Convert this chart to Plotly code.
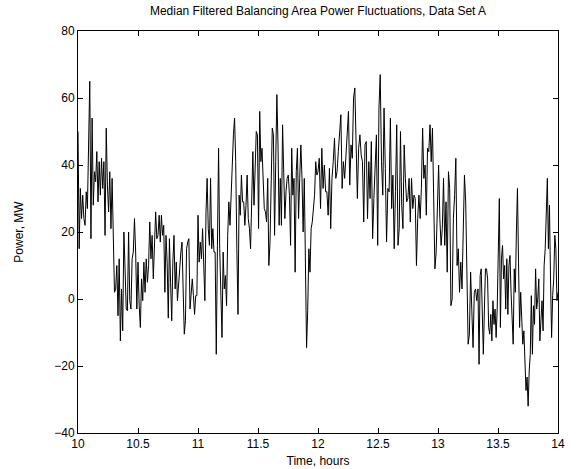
import numpy as np
import plotly.graph_objects as go

# Segment boundaries (hours) and readings of the trace within each segment
seg_bounds = [10.0, 10.6667, 11.3333, 12.0, 12.6667, 13.3333, 14.0]

power_a = [50, 15, 33, 24, 31, 24, 22, 32, 27, 47, 65, 18, 54, 28, 38, 35, 44, 29, 41, 31,
           42, 33, 41, 19, 51, 34, 26, 38, 21, 36, 12, 2, 3, 10, -5, 12, -12.5, 3, -9.5, 20,
           9, -3, -3.5, 20, -0.5, -3, 12, 14, 24, 14, -3, 11, -2, -8.5, 6, -0.5, 11, 2, 12, 5,
           10, 23, 12, 19, 6, 17, 26, 18]
power_b = [19, 25, 17, 25, 19, 22, 2, 19, 11, -5.7, 18, 5, -6.5, 11, 19, 3, 11, -0.5, 6, 9,
           14, 17, 3, -10.5, -6.5, 15, 17, 18, -3, 1, 6, 1, -4.6, 1, 1, 25, 11, 17, 12, 21,
           11, -0.5, 26, 36, 21, 16, 36, 15, 21, 14, 14, -16.5, 16, 45, 15, -0.5, -11.5, 14, 3, 7,
           -2, 19, 29, 22, 32, 37, 49, 54, 41, 15]
power_c = [-4.6, 31, 25, 37, 29, 29, 22, 28, 37, 24, 21, 15, 36, 44, 28, 41, 50, 49, 21, 56,
           41, 45, 33, 27, 26, 23, 36, 10, 17, 39, 51, 49, 19, 41, 61, 46, 22, 36, 22, 52,
           36, 24, 32, 36, 37, 31, 16, 45, 31, 36, 8, 38, 45, 24, 36, 46, 36, 20, 36, 7,
           -14.5, -3.5, 15, 8, 21, 23, 27, 31, 41, 37]
power_d = [38, 42, 27, 45, 33, 40, 32, 32, 25, 39, 21, 36, 41, 48, 36, 38, 44, 49, 55, 33,
           41, 36, 43, 47, 56, 34, 46, 42, 60, 63, 45, 30, 45, 49, 43, 41, 23, 46, 47, 24,
           41, 30, 47, 18, 30, 41, 49, 16, 57, 67, 41, 31, 57, 39, 17, 33, 32, 54, 27, 37,
           15, 32, 52]
power_e = [16, 21, 50, 28, 21, 46, 36, 29, 30, 36, 23, 36, 27, 31, 30, 10, 24, 31, 24, 33,
           51, 36, 40, 25, 45, 44, 52, 41, 51, 26, 9, 14, 29, 40, 24, 16, 21, 36, 16, 29,
           8, 38, 33, -2, 0, 24, 31, 42, 10, 15, 2, 11, 3, 26, 37, 29, 9, -13.5, -10.5, 8,
           -3.5, -14.5, 2, 3, -0.5]
power_f = [3, -19.5, 7, 9, -7.6, -16.5, -3, 9, 9, 6, -8.5, -10.5, -4.6, -12.5, -0.5, -7.6, -3, -11.5, -3, 14,
           30, -8.5, 12, 16, 6, 10, -3, 12, -4.6, 10, 13, 2, -4.6, -13.5, 9, 2, 20, 33, 11, -8.5,
           2, -6.5, -13.5, -9.5, -18.5, -27.3, -23.3, -32, -21.5, -16.5, 1, -16.5, -2, -7.6, 9, -3, 0, 6, -12.5, -4.6,
           -0.5, -9.5, 10, 15, 26, 36, 15, 28, 6, -11.5, 1, 6, 19, 15, -0.5, 2]

x_ticks = [10, 10.5, 11, 11.5, 12, 12.5, 13, 13.5, 14]
x_tick_labels = ["10", "10.5", "11", "11.5", "12", "12.5", "13", "13.5", "14"]
y_ticks = [-40, -20, 0, 20, 40, 60, 80]
y_tick_labels = ["\u221240", "\u221220", "0", "20", "40", "60", "80"]

segments = [power_a, power_b, power_c, power_d, power_e, power_f]
times = []
powers = []
for i, seg in enumerate(segments):
    last = i == len(segments) - 1
    t = np.linspace(seg_bounds[i], seg_bounds[i + 1], len(seg), endpoint=last)
    times.extend(t.tolist())
    powers.extend(seg)

font_family = "Liberation Sans, Arial, Helvetica, sans-serif"

fig = go.Figure()
fig.add_trace(go.Scatter(x=times, y=powers, mode="lines",
                         line=dict(color="black", width=1), showlegend=False))

axis_common = dict(showline=True, linecolor="black", linewidth=1, mirror="ticks",
                   ticks="inside", ticklen=5, tickcolor="black", showgrid=False,
                   zeroline=False, automargin=False,
                   tickfont=dict(size=12, color="black", family=font_family))

fig.update_layout(
    width=579, height=469,
    margin=dict(l=78, r=21, t=31, b=36),
    paper_bgcolor="white", plot_bgcolor="white",
    font=dict(family=font_family, size=12, color="black"),
    title=dict(text="Median Filtered Balancing Area Power Fluctuations, Data Set A",
               x=0.5, xref="paper", xanchor="center",
               y=1 - 11 / 469, yref="container", yanchor="middle",
               font=dict(size=12, color="black", family=font_family)),
    xaxis=dict(range=[10, 14], tickvals=x_ticks, ticktext=x_tick_labels,
               title=dict(text="Time, hours", standoff=6,
                          font=dict(size=12, color="black", family=font_family)),
               **axis_common),
    yaxis=dict(range=[-40, 80], tickvals=y_ticks, ticktext=y_tick_labels,
               title=dict(text="Power, MW", standoff=28,
                          font=dict(size=12, color="black", family=font_family)),
               **axis_common),
)

fig.write_html("out.html")
